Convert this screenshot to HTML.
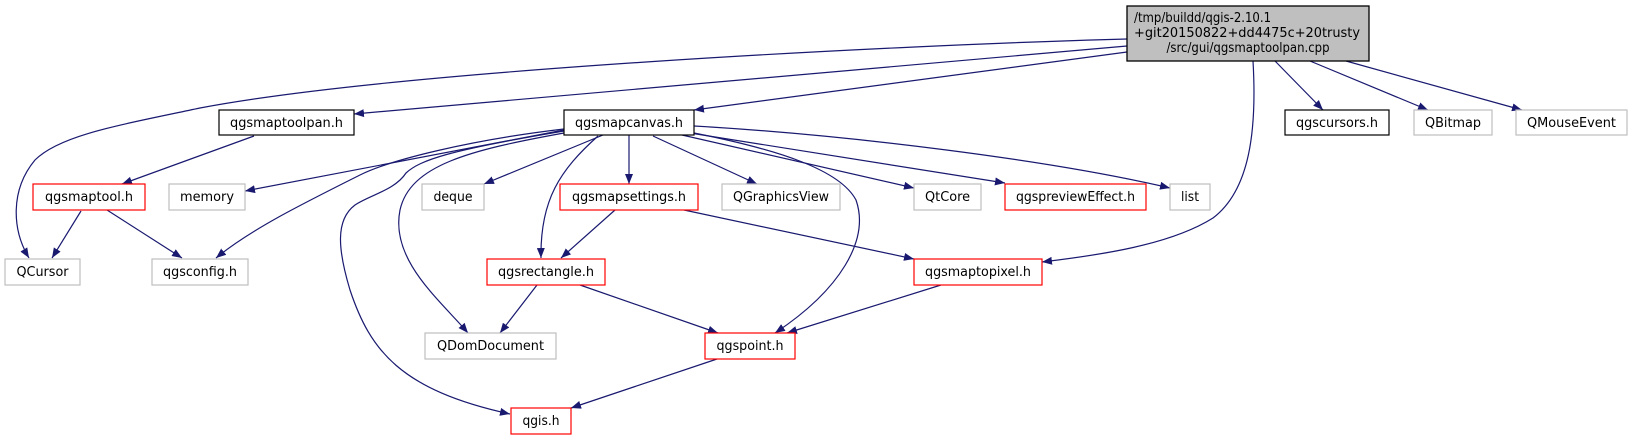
<!DOCTYPE html>
<html><head><meta charset="utf-8"><style>
html,body{margin:0;padding:0;background:#fff;}
svg{display:block;}
text{font-family:"Liberation Sans Narrow","DejaVu Sans Condensed","Liberation Sans",sans-serif;font-size:13px;fill:#000;}
</style></head><body>
<svg width="1632" height="440" viewBox="0 0 1632 440" xmlns="http://www.w3.org/2000/svg">
<defs>
<marker id="a" markerWidth="10" markerHeight="8" refX="10" refY="4" orient="auto" markerUnits="userSpaceOnUse">
<path d="M0,0 L10,4 L0,8 Z" fill="#191970"/>
</marker>
</defs>
<g fill="none" stroke="#191970" stroke-width="1.2" marker-end="url(#a)">
<path d="M1127,39 C900,45 400,70 200,108 C120,125 60,135 35,160 C10,190 12,230 29,258"/>
<path d="M1127,46 L354,114"/>
<path d="M1127,52 L694,110"/>
<path d="M1253,61 C1257,130 1250,190 1213,218 C1170,245 1100,255 1042,262"/>
<path d="M1275,61 L1323,110"/>
<path d="M1310,61 L1428,110"/>
<path d="M1346,61 L1522,110"/>
<path d="M564,130 L245,191"/>
<path d="M564,129 C470,140 390,160 360,175 C300,205 250,230 216,258"/>
<path d="M564,133 C470,150 410,165 400,210 C390,260 440,300 468,333"/>
<path d="M564,131 C450,150 420,160 406,173 C395,190 370,195 355,205 C335,220 338,250 350,290 C370,350 400,390 510,414"/>
<path d="M603,135 L484,184"/>
<path d="M598,136 C560,170 540,200 541,258"/>
<path d="M629,135 L629,184"/>
<path d="M653,136 L757,184"/>
<path d="M682,135 L914,188"/>
<path d="M690,133 L1005,183"/>
<path d="M694,126 C850,135 1050,160 1170,188"/>
<path d="M694,133 C780,150 840,170 856,200 C870,240 840,290 775,333"/>
<path d="M254,136 L122,184"/>
<path d="M81,211 L52,258"/>
<path d="M107,210 L182,258"/>
<path d="M615,210 L561,258"/>
<path d="M684,210 L914,259"/>
<path d="M537,285 L500,333"/>
<path d="M580,285 L718,333"/>
<path d="M941,285 L787,333"/>
<path d="M717,359 L571,408"/>
</g>
<rect x="1127" y="6" width="242" height="55" fill="#bfbfbf" stroke="#000" stroke-width="1.3"/>
<text x="1134" y="22">/tmp/buildd/qgis-2.10.1</text>
<text x="1134" y="37" textLength="226" lengthAdjust="spacingAndGlyphs">+git20150822+dd4475c+20trusty</text>
<text x="1248" y="52" text-anchor="middle">/src/gui/qgsmaptoolpan.cpp</text>
<g stroke-width="1.2" fill="#fff">
<rect x="219" y="110" width="135" height="25" stroke="#000"/>
<rect x="564" y="110" width="130" height="25" stroke="#000"/>
<rect x="1285" y="110" width="104" height="25" stroke="#000"/>
<rect x="1414" y="110" width="78" height="25" stroke="#bfbfbf"/>
<rect x="1516" y="110" width="111" height="25" stroke="#bfbfbf"/>
<rect x="33" y="184" width="112" height="26" stroke="#f00"/>
<rect x="169" y="184" width="76" height="26" stroke="#bfbfbf"/>
<rect x="422" y="184" width="62" height="26" stroke="#bfbfbf"/>
<rect x="560" y="184" width="138" height="26" stroke="#f00"/>
<rect x="722" y="184" width="118" height="26" stroke="#bfbfbf"/>
<rect x="914" y="184" width="67" height="26" stroke="#bfbfbf"/>
<rect x="1005" y="184" width="141" height="26" stroke="#f00"/>
<rect x="1170" y="184" width="40" height="26" stroke="#bfbfbf"/>
<rect x="5" y="259" width="75" height="26" stroke="#bfbfbf"/>
<rect x="152" y="259" width="96" height="26" stroke="#bfbfbf"/>
<rect x="487" y="259" width="118" height="26" stroke="#f00"/>
<rect x="914" y="259" width="128" height="26" stroke="#f00"/>
<rect x="425" y="333" width="131" height="26" stroke="#bfbfbf"/>
<rect x="705" y="333" width="90" height="26" stroke="#f00"/>
<rect x="511" y="408" width="60" height="26" stroke="#f00"/>
</g>
<g text-anchor="middle">
<text x="286.5" y="127" textLength="113" lengthAdjust="spacingAndGlyphs">qgsmaptoolpan.h</text>
<text x="629" y="127" textLength="108" lengthAdjust="spacingAndGlyphs">qgsmapcanvas.h</text>
<text x="1337" y="127" textLength="82" lengthAdjust="spacingAndGlyphs">qgscursors.h</text>
<text x="1453" y="127" textLength="56" lengthAdjust="spacingAndGlyphs">QBitmap</text>
<text x="1571.5" y="127" textLength="89" lengthAdjust="spacingAndGlyphs">QMouseEvent</text>
<text x="89" y="201" textLength="88" lengthAdjust="spacingAndGlyphs">qgsmaptool.h</text>
<text x="207" y="201" textLength="54" lengthAdjust="spacingAndGlyphs">memory</text>
<text x="453" y="201" textLength="39" lengthAdjust="spacingAndGlyphs">deque</text>
<text x="629" y="201" textLength="114" lengthAdjust="spacingAndGlyphs">qgsmapsettings.h</text>
<text x="781" y="201" textLength="96" lengthAdjust="spacingAndGlyphs">QGraphicsView</text>
<text x="947.5" y="201" textLength="45" lengthAdjust="spacingAndGlyphs">QtCore</text>
<text x="1075.5" y="201" textLength="119" lengthAdjust="spacingAndGlyphs">qgspreviewEffect.h</text>
<text x="1190" y="201" textLength="18" lengthAdjust="spacingAndGlyphs">list</text>
<text x="42.5" y="276" textLength="52" lengthAdjust="spacingAndGlyphs">QCursor</text>
<text x="200" y="276" textLength="74" lengthAdjust="spacingAndGlyphs">qgsconfig.h</text>
<text x="546" y="276" textLength="96" lengthAdjust="spacingAndGlyphs">qgsrectangle.h</text>
<text x="978" y="276" textLength="106" lengthAdjust="spacingAndGlyphs">qgsmaptopixel.h</text>
<text x="490.5" y="350" textLength="107" lengthAdjust="spacingAndGlyphs">QDomDocument</text>
<text x="750" y="350" textLength="67" lengthAdjust="spacingAndGlyphs">qgspoint.h</text>
<text x="541" y="425" textLength="37" lengthAdjust="spacingAndGlyphs">qgis.h</text>
</g>
</svg>
</body></html>
